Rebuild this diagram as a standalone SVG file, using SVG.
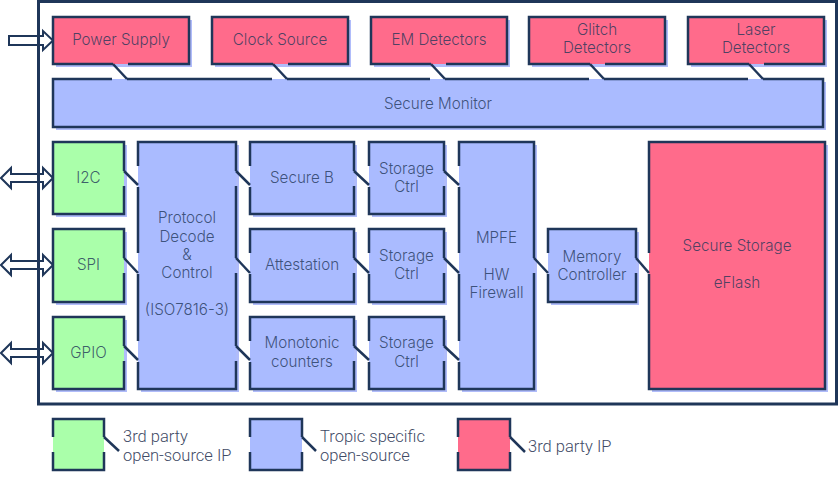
<svg xmlns="http://www.w3.org/2000/svg" width="840" height="480" viewBox="0 0 840 480">
<style>
.sh{fill:#b0bcfa}
.pk{fill:#ff6b8b}
.gr{fill:#aaffaa}
.bl{fill:#aabbff}
.bd{fill:none;stroke:#1f3659;stroke-width:2.5}
.t{font-family:Inter,"Liberation Sans",sans-serif;font-size:15.2px;font-weight:300;fill:#1f3659;fill-opacity:.8;text-anchor:middle}
.lt{font-family:Roboto,"Liberation Sans",sans-serif;font-size:16.5px;font-weight:300;fill:#3f4b66}
.cn{stroke:#1f3659;stroke-width:2.5;fill:none}
.ar{fill:#fff;stroke:#1f3659;stroke-width:2}
</style>
<defs>
<mask id="gaps" maskUnits="userSpaceOnUse" x="0" y="0" width="840" height="480">
<rect x="0" y="0" width="840" height="480" fill="#fff"/>
<g fill="#000">
<rect x="113" y="61" width="15" height="6"/><rect x="112" y="76" width="15" height="6"/>
<rect x="273" y="61" width="15" height="6"/><rect x="272" y="76" width="15" height="6"/>
<rect x="431" y="61" width="15" height="6"/><rect x="430" y="76" width="15" height="6"/>
<rect x="590" y="61" width="15" height="6"/><rect x="589" y="76" width="15" height="6"/>
<rect x="749" y="61" width="15" height="6"/><rect x="748" y="76" width="15" height="6"/>
<rect x="121" y="171" width="6" height="15"/><rect x="135" y="166" width="6" height="21"/>
<rect x="121" y="258" width="6" height="15"/><rect x="135" y="253" width="6" height="21"/>
<rect x="121" y="346" width="6" height="15"/><rect x="135" y="341" width="6" height="21"/>
<rect x="233" y="171" width="6" height="15"/><rect x="247" y="166" width="6" height="21"/>
<rect x="233" y="258" width="6" height="15"/><rect x="247" y="253" width="6" height="21"/>
<rect x="233" y="346" width="6" height="15"/><rect x="247" y="341" width="6" height="21"/>
<rect x="351" y="171" width="6" height="15"/><rect x="366" y="166" width="6" height="21"/>
<rect x="351" y="258" width="6" height="15"/><rect x="366" y="253" width="6" height="21"/>
<rect x="351" y="346" width="6" height="15"/><rect x="366" y="341" width="6" height="21"/>
<rect x="441" y="171" width="6" height="15"/><rect x="456" y="166" width="6" height="21"/>
<rect x="441" y="258" width="6" height="15"/><rect x="456" y="253" width="6" height="21"/>
<rect x="441" y="346" width="6" height="15"/><rect x="456" y="341" width="6" height="21"/>
<rect x="531" y="258" width="6" height="15"/><rect x="545" y="253" width="6" height="21"/>
<rect x="633" y="258" width="6" height="15"/><rect x="646" y="253" width="6" height="21"/>
<rect x="101" y="437" width="6" height="15"/><rect x="50" y="437" width="6" height="15"/>
<rect x="299" y="437" width="6" height="15"/><rect x="247" y="437" width="6" height="15"/>
<rect x="507" y="437" width="6" height="15"/><rect x="455" y="437" width="6" height="15"/>
</g>
</mask>
</defs>

<g id="io-arrows">
<polygon class="ar" points="9,36 43,36 43,31 53,40.5 43,50 43,45 9,45"/>
<polygon class="ar" points="1,178 11,168 11,174 43,174 43,168 53,178 43,188 43,182 11,182 11,188"/>
<polygon class="ar" points="1,265 11,255 11,261 43,261 43,255 53,265 43,275 43,269 11,269 11,275"/>
<polygon class="ar" points="1,353 11,343 11,349 43,349 43,343 53,353 43,363 43,357 11,357 11,363"/>
</g>

<rect id="chip" x="38.5" y="1.5" width="798" height="402.5" fill="none" stroke="#1f3659" stroke-width="3"/>

<g id="power-supply">
<rect class="sh" x="56" y="20" width="136" height="47"/><rect class="pk" x="53" y="17" width="136" height="47"/><rect class="bd" x="53" y="17" width="136" height="47" mask="url(#gaps)"/>
<text class="t" x="121" y="45">Power Supply</text>
</g>
<g id="clock-source">
<rect class="sh" x="215" y="20" width="136" height="47"/><rect class="pk" x="212" y="17" width="136" height="47"/><rect class="bd" x="212" y="17" width="136" height="47" mask="url(#gaps)"/>
<text class="t" x="280" y="45">Clock Source</text>
</g>
<g id="em-detectors">
<rect class="sh" x="374" y="20" width="136" height="47"/><rect class="pk" x="371" y="17" width="136" height="47"/><rect class="bd" x="371" y="17" width="136" height="47" mask="url(#gaps)"/>
<text class="t" x="439" y="45">EM Detectors</text>
</g>
<g id="glitch-detectors">
<rect class="sh" x="532" y="20" width="136" height="47"/><rect class="pk" x="529" y="17" width="136" height="47"/><rect class="bd" x="529" y="17" width="136" height="47" mask="url(#gaps)"/>
<text class="t" x="597" y="35">Glitch</text><text class="t" x="597" y="53">Detectors</text>
</g>
<g id="laser-detectors">
<rect class="sh" x="691" y="20" width="136" height="47"/><rect class="pk" x="688" y="17" width="136" height="47"/><rect class="bd" x="688" y="17" width="136" height="47" mask="url(#gaps)"/>
<text class="t" x="756" y="35">Laser</text><text class="t" x="756" y="53">Detectors</text>
</g>
<g id="secure-monitor">
<rect class="sh" x="56" y="82" width="770" height="48"/><rect class="bl" x="53" y="79" width="770" height="48"/><rect class="bd" x="53" y="79" width="770" height="48" mask="url(#gaps)"/>
<text class="t" x="438" y="109">Secure Monitor</text>
</g>

<g id="i2c">
<rect class="sh" x="56" y="145" width="71" height="72"/><rect class="gr" x="53" y="142" width="71" height="72"/><rect class="bd" x="53" y="142" width="71" height="72" mask="url(#gaps)"/>
<text class="t" x="88.5" y="183">I2C</text>
</g>
<g id="spi">
<rect class="sh" x="56" y="232" width="71" height="73"/><rect class="gr" x="53" y="229" width="71" height="73"/><rect class="bd" x="53" y="229" width="71" height="73" mask="url(#gaps)"/>
<text class="t" x="88.5" y="270">SPI</text>
</g>
<g id="gpio">
<rect class="sh" x="56" y="320" width="71" height="72"/><rect class="gr" x="53" y="317" width="71" height="72"/><rect class="bd" x="53" y="317" width="71" height="72" mask="url(#gaps)"/>
<text class="t" x="88.5" y="358">GPIO</text>
</g>
<g id="protocol">
<rect class="sh" x="141" y="145" width="98" height="247"/><rect class="bl" x="138" y="142" width="98" height="247"/><rect class="bd" x="138" y="142" width="98" height="247" mask="url(#gaps)"/>
<text class="t" x="187" y="223">Protocol</text><text class="t" x="187" y="242">Decode</text><text class="t" x="187" y="260">&amp;</text><text class="t" x="187" y="278">Control</text><text class="t" x="187" y="315">(ISO7816-3)</text>
</g>
<g id="secure-b">
<rect class="sh" x="253" y="145" width="104" height="72"/><rect class="bl" x="250" y="142" width="104" height="72"/><rect class="bd" x="250" y="142" width="104" height="72" mask="url(#gaps)"/>
<text class="t" x="302" y="183">Secure B</text>
</g>
<g id="attestation">
<rect class="sh" x="253" y="232" width="104" height="73"/><rect class="bl" x="250" y="229" width="104" height="73"/><rect class="bd" x="250" y="229" width="104" height="73" mask="url(#gaps)"/>
<text class="t" x="302" y="270">Attestation</text>
</g>
<g id="monotonic">
<rect class="sh" x="253" y="320" width="104" height="72"/><rect class="bl" x="250" y="317" width="104" height="72"/><rect class="bd" x="250" y="317" width="104" height="72" mask="url(#gaps)"/>
<text class="t" x="302" y="348">Monotonic</text><text class="t" x="302" y="367">counters</text>
</g>
<g id="storage-ctrl-1">
<rect class="sh" x="372" y="145" width="75" height="72"/><rect class="bl" x="369" y="142" width="75" height="72"/><rect class="bd" x="369" y="142" width="75" height="72" mask="url(#gaps)"/>
<text class="t" x="406.5" y="174">Storage</text><text class="t" x="406.5" y="192">Ctrl</text>
</g>
<g id="storage-ctrl-2">
<rect class="sh" x="372" y="232" width="75" height="73"/><rect class="bl" x="369" y="229" width="75" height="73"/><rect class="bd" x="369" y="229" width="75" height="73" mask="url(#gaps)"/>
<text class="t" x="406.5" y="261">Storage</text><text class="t" x="406.5" y="279">Ctrl</text>
</g>
<g id="storage-ctrl-3">
<rect class="sh" x="372" y="320" width="75" height="72"/><rect class="bl" x="369" y="317" width="75" height="72"/><rect class="bd" x="369" y="317" width="75" height="72" mask="url(#gaps)"/>
<text class="t" x="406.5" y="348">Storage</text><text class="t" x="406.5" y="367">Ctrl</text>
</g>
<g id="mpfe">
<rect class="sh" x="462" y="145" width="75" height="247"/><rect class="bl" x="459" y="142" width="75" height="247"/><rect class="bd" x="459" y="142" width="75" height="247" mask="url(#gaps)"/>
<text class="t" x="496.5" y="243">MPFE</text><text class="t" x="496.5" y="280">HW</text><text class="t" x="496.5" y="298">Firewall</text>
</g>
<g id="memory-controller">
<rect class="sh" x="551" y="232" width="88" height="73"/><rect class="bl" x="548" y="229" width="88" height="73"/><rect class="bd" x="548" y="229" width="88" height="73" mask="url(#gaps)"/>
<text class="t" x="592" y="262">Memory</text><text class="t" x="592" y="280">Controller</text>
</g>
<g id="secure-storage">
<rect class="sh" x="652" y="145" width="176" height="247"/><rect class="pk" x="649" y="142" width="176" height="247"/><rect class="bd" x="649" y="142" width="176" height="247" mask="url(#gaps)"/>
<text class="t" x="737" y="251">Secure Storage</text><text class="t" x="737" y="288">eFlash</text>
</g>

<g id="legend-green">
<rect class="gr" x="53" y="419" width="51" height="51"/><rect class="bd" x="53" y="419" width="51" height="51" mask="url(#gaps)"/>
<text class="lt" x="123" y="442">3rd party</text><text class="lt" x="123" y="461">open-source IP</text>
</g>
<g id="legend-blue">
<rect class="bl" x="250" y="419" width="52" height="51"/><rect class="bd" x="250" y="419" width="52" height="51" mask="url(#gaps)"/>
<text class="lt" x="320" y="442">Tropic specific</text><text class="lt" x="320" y="461">open-source</text>
</g>
<g id="legend-pink">
<rect class="pk" x="458" y="419" width="52" height="51"/><rect class="bd" x="458" y="419" width="52" height="51" mask="url(#gaps)"/>
<text class="lt" x="528" y="452">3rd party IP</text>
</g>

<g id="connectors" class="cn">
<line x1="113" y1="64" x2="127" y2="79"/>
<line x1="273" y1="64" x2="287" y2="79"/>
<line x1="431" y1="64" x2="445" y2="79"/>
<line x1="590" y1="64" x2="604" y2="79"/>
<line x1="749" y1="64" x2="763" y2="79"/>
<line x1="124" y1="171" x2="138" y2="185"/>
<line x1="124" y1="258" x2="138" y2="273"/>
<line x1="124" y1="346" x2="138" y2="360"/>
<line x1="236" y1="171" x2="250" y2="185"/>
<line x1="236" y1="258" x2="250" y2="273"/>
<line x1="236" y1="346" x2="250" y2="360"/>
<line x1="354" y1="171" x2="369" y2="185"/>
<line x1="354" y1="258" x2="369" y2="273"/>
<line x1="354" y1="346" x2="369" y2="360"/>
<line x1="444" y1="171" x2="459" y2="185"/>
<line x1="444" y1="258" x2="459" y2="273"/>
<line x1="444" y1="346" x2="459" y2="360"/>
<line x1="534" y1="258" x2="548" y2="273"/>
<line x1="636" y1="258" x2="649" y2="273"/>
<line x1="104" y1="437" x2="119" y2="451"/>
<line x1="302" y1="437" x2="316" y2="451"/>
<line x1="510" y1="437" x2="525" y2="452"/>
</g>
</svg>
